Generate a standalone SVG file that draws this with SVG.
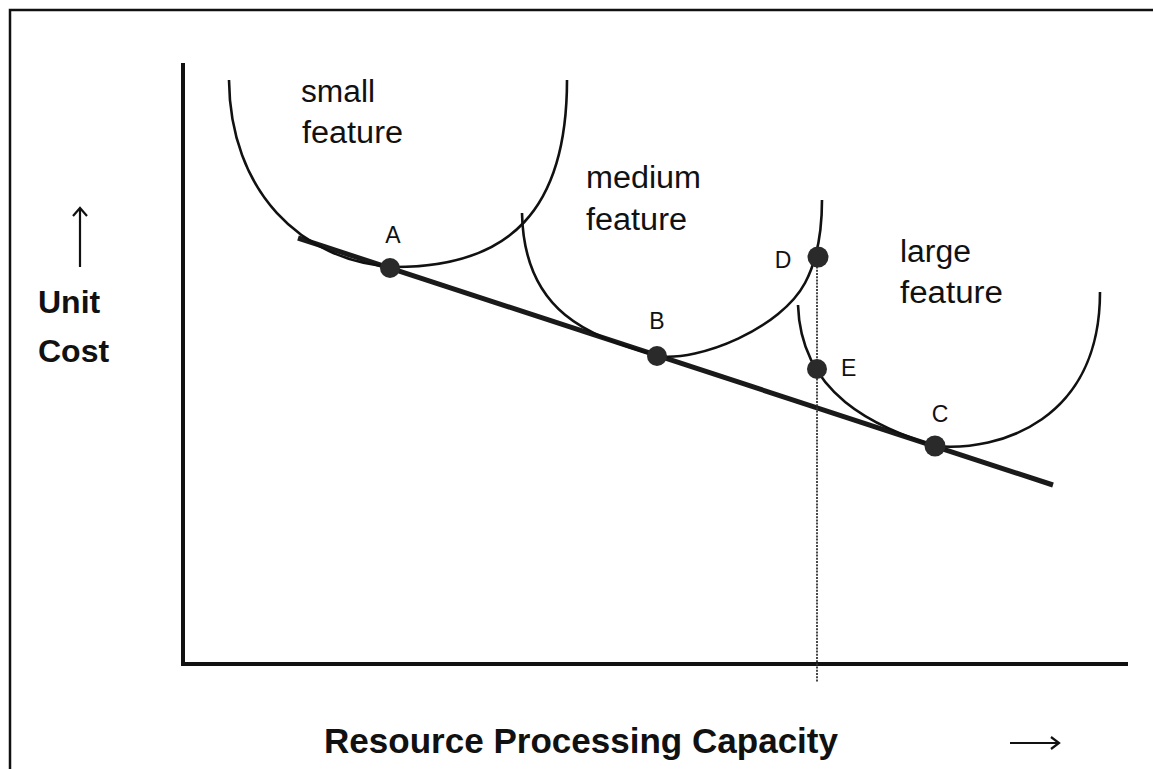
<svg xmlns="http://www.w3.org/2000/svg" width="1153" height="769" viewBox="0 0 1153 769">
<style>
.lbl{font-family:"Liberation Sans",Arial,sans-serif;font-size:31px;fill:#111}
.pt{font-family:"Liberation Sans",Arial,sans-serif;font-size:23px;fill:#111}
.bold{font-family:"Liberation Sans",Arial,sans-serif;font-weight:bold;fill:#111}
.curve{fill:none;stroke:#111;stroke-width:2.6}
.dot{fill:#2a2a2a}
</style>
<rect width="1153" height="769" fill="#fff"/>
<g id="frame" fill="none" stroke="#111">
<path d="M10,769 V10 H1153" stroke-width="2.5"/>
</g>
<g id="axes" fill="none" stroke="#111" stroke-width="4">
<path d="M183,63 V664 H1128"/>
</g>
<g id="connectors">
<path id="cost-line" d="M298,238 L1053,485" fill="none" stroke="#1a1a1a" stroke-width="5"/>
<path id="capacity-marker" d="M817,257 V682" fill="none" stroke="#333" stroke-width="1.8" stroke-dasharray="2,1.2"/>
</g>
<g id="small-feature">
<path class="curve" d="M229,80 C230,190 300,262 395,267 C510,267 567,210 567,80"/>
<text class="lbl" x="301" y="102" textLength="74" lengthAdjust="spacingAndGlyphs">small</text>
<text class="lbl" x="302" y="143" textLength="101" lengthAdjust="spacingAndGlyphs">feature</text>
</g>
<g id="medium-feature">
<path class="curve" d="M522,213 C524,320 600,338 657,356 C700,362 781,328 805,283 C813,268 822,245 822,200"/>
<text class="lbl" x="586" y="188" textLength="115" lengthAdjust="spacingAndGlyphs">medium</text>
<text class="lbl" x="586" y="230" textLength="101" lengthAdjust="spacingAndGlyphs">feature</text>
</g>
<g id="large-feature">
<path class="curve" d="M798,305 C801,395 875,426.5 935,446 C1000,452 1100,420 1100,292"/>
<text class="lbl" x="900" y="262" textLength="71" lengthAdjust="spacingAndGlyphs">large</text>
<text class="lbl" x="900" y="303" textLength="103" lengthAdjust="spacingAndGlyphs">feature</text>
</g>
<g id="point-A">
<circle class="dot" cx="390" cy="268" r="10"/>
<text class="pt" x="393" y="243" text-anchor="middle">A</text>
</g>
<g id="point-B">
<circle class="dot" cx="657" cy="356" r="10"/>
<text class="pt" x="657" y="329" text-anchor="middle">B</text>
</g>
<g id="point-C">
<circle class="dot" cx="935" cy="446" r="10.5"/>
<text class="pt" x="940" y="422" text-anchor="middle">C</text>
</g>
<g id="point-D">
<circle class="dot" cx="818" cy="257" r="10.5"/>
<text class="pt" x="783" y="268" text-anchor="middle">D</text>
</g>
<g id="point-E">
<circle class="dot" cx="817" cy="369" r="10"/>
<text class="pt" x="841" y="376">E</text>
</g>
<g id="y-label">
<path d="M80,267 V209 M73,216 L80,208 L87,216" fill="none" stroke="#111" stroke-width="2.2"/>
<text class="bold" x="38" y="313" font-size="32">Unit</text>
<text class="bold" x="38" y="362" font-size="32">Cost</text>
</g>
<g id="x-label">
<text class="bold" x="324" y="753" font-size="35" textLength="514" lengthAdjust="spacingAndGlyphs">Resource Processing Capacity</text>
<path d="M1010,743 H1058 M1051,737 L1059,743 L1051,749" fill="none" stroke="#111" stroke-width="2.2"/>
</g>
</svg>
